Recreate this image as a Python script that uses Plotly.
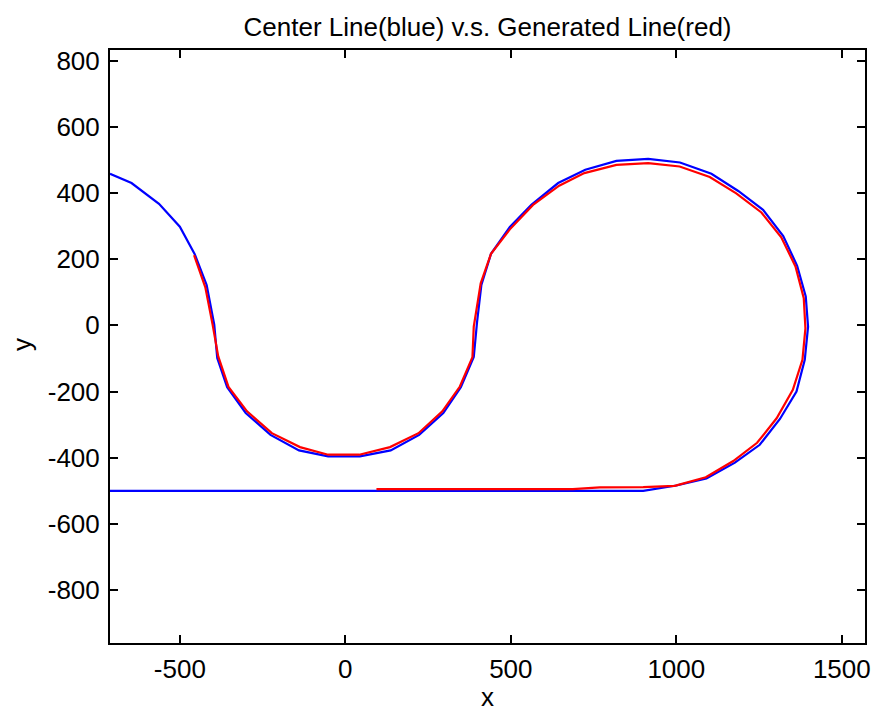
import plotly.graph_objects as go

# Center line (blue)
blue_x = [-711, -646, -563, -500, -455, -419, -396, -387, -357, -301, -226, -140, -52, 44, 137,
          223, 296, 349, 388, 398, 411, 440, 497, 562, 643, 725, 819, 915, 1011, 1106, 1187,
          1262, 1323, 1365, 1391, 1398, 1388, 1363, 1313, 1252, 1177, 1091, 1000, 900, -711]
blue_y = [458, 430, 367, 298, 215, 122, 2, -99, -187, -265, -331, -378, -396, -396, -378,
          -331, -265, -187, -96, 10, 122, 216, 297, 364, 430, 470, 497, 503, 492, 458, 406,
          349, 270, 180, 87, -4, -104, -200, -283, -361, -415, -463, -484, -500, -500]

# Generated line (red)
red_x = [-457, -423, -401, -384, -353, -297, -222, -137, -52, 42, 135, 221, 293, 346, 384,
         388, 409, 440, 497, 567, 646, 722, 819, 915, 1010, 1101, 1181, 1257, 1317, 1360,
         1385, 1390, 1381, 1352, 1303, 1244, 1172, 1089, 995, 900, 769, 687, 94]
red_y = [212, 115, 2, -94, -186, -260, -326, -368, -391, -391, -368, -326, -260, -185, -96,
         -4, 127, 216, 290, 364, 422, 460, 485, 490, 480, 448, 399, 341, 266, 178,
         82, -9, -104, -195, -281, -355, -410, -459, -485, -489, -490, -495, -495]

title_text = "Center Line(blue) v.s. Generated Line(red)"
x_label = "x"
y_label = "y"
x_ticks = [-500, 0, 500, 1000, 1500]
y_ticks = [-800, -600, -400, -200, 0, 200, 400, 600, 800]

FONT = "Liberation Sans, Arial, sans-serif"
FS = 26
W, H = 873, 713
ML, MR, MT, MB = 110, 8, 50, 70

fig = go.Figure()
fig.add_trace(go.Scatter(x=blue_x, y=blue_y, mode="lines",
                         line=dict(color="#0000FF", width=2.2), showlegend=False))
fig.add_trace(go.Scatter(x=red_x, y=red_y, mode="lines",
                         line=dict(color="#FF0000", width=2.2), showlegend=False))

axis_common = dict(
    showgrid=False, zeroline=False, showline=True, linecolor="black", linewidth=2,
    mirror="ticks", ticks="inside", tickcolor="black", tickwidth=2, ticklen=8,
    tickfont=dict(family=FONT, size=FS, color="black"), automargin=False,
)

fig.update_layout(
    width=W, height=H,
    margin=dict(l=ML, r=MR, t=MT, b=MB, autoexpand=False),
    paper_bgcolor="white", plot_bgcolor="white",
    font=dict(family=FONT, size=FS, color="black"),
    title=dict(text=title_text, x=0.5, xref="paper", y=1 - 27 / H, yref="container",
               yanchor="middle", xanchor="center",
               font=dict(family=FONT, size=FS, color="black")),
    xaxis=dict(range=[-711, 1570], tickvals=x_ticks, ticktext=[str(v) for v in x_ticks],
               ticklabelstandoff=2, **axis_common),
    yaxis=dict(range=[-960, 832], tickvals=y_ticks, ticktext=[str(v) for v in y_ticks],
               ticklabelstandoff=3, **axis_common),
)

pw = W - ML - MR
ph = H - MT - MB
fig.add_annotation(text=x_label, xref="paper", yref="paper", x=(487 - ML) / pw,
                   y=-(697 - (H - MB)) / ph, yanchor="middle", xanchor="center",
                   showarrow=False, font=dict(family=FONT, size=FS, color="black"))
fig.add_annotation(text=y_label, xref="paper", yref="paper", x=-(ML - 22) / pw,
                   y=(H - MB - 345) / ph, yanchor="middle", xanchor="center", textangle=-90,
                   showarrow=False, font=dict(family=FONT, size=FS, color="black"))

fig.write_html("out.html")
